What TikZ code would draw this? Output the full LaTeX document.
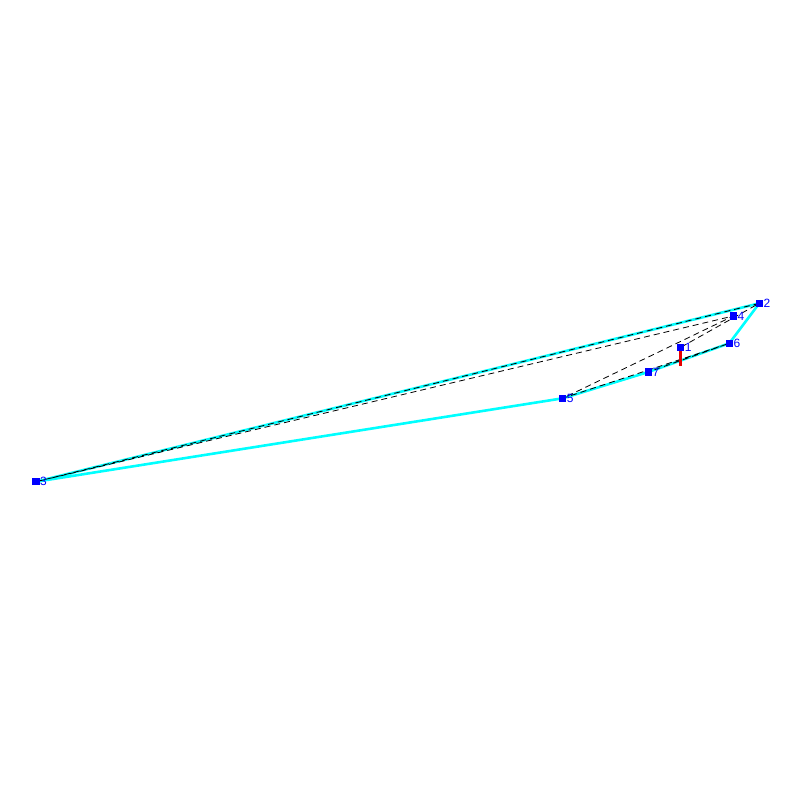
\documentclass[tikz,border=0pt]{standalone}
\usepackage{fontspec}
\setmainfont{Liberation Sans}
\definecolor{hullcyan}{RGB}{0,255,255}
\definecolor{ptblue}{RGB}{0,0,255}
\definecolor{segred}{RGB}{230,0,0}
\begin{document}
\begin{tikzpicture}[x=1pt,y=-1pt,
  hull/.style={hullcyan, line width=2.6pt},
  chain/.style={black, line width=0.8pt, dash pattern=on 6pt off 4pt},
  vert/.style={fill=ptblue, inner sep=0pt, minimum size=7.5pt},
  lbl/.style={ptblue, font=\fontsize{12}{12}\selectfont, anchor=west, inner sep=0pt}]
  \useasboundingbox (0,0) rectangle (800,800);
  % points
  \coordinate (p1) at (680.7,347.3);
  \coordinate (p2) at (759.3,303.3);
  \coordinate (p3) at (36.0,481.7);
  \coordinate (p4) at (733.3,316.0);
  \coordinate (p5) at (562.7,398.3);
  \coordinate (p6) at (729.3,343.3);
  \coordinate (p7) at (648.3,372.0);
  \coordinate (foot) at (680.7,365.5);
  % hull and chain
  \draw[hull] (p3) -- (p2) -- (p6) -- (p7) -- (p5) -- cycle;
  \draw[chain] (p1) -- (p2) -- (p3) -- (p4) -- (p5) -- (p6) -- (p7);
  \draw[segred, line width=2.5pt] (p1) -- (foot);
  \foreach \i in {1,...,7} {
    \node[vert] (v\i) at (p\i) {};
    \node[lbl] (l\i) at ([xshift=4pt]p\i) {\i};
  }
\end{tikzpicture}
\end{document}
